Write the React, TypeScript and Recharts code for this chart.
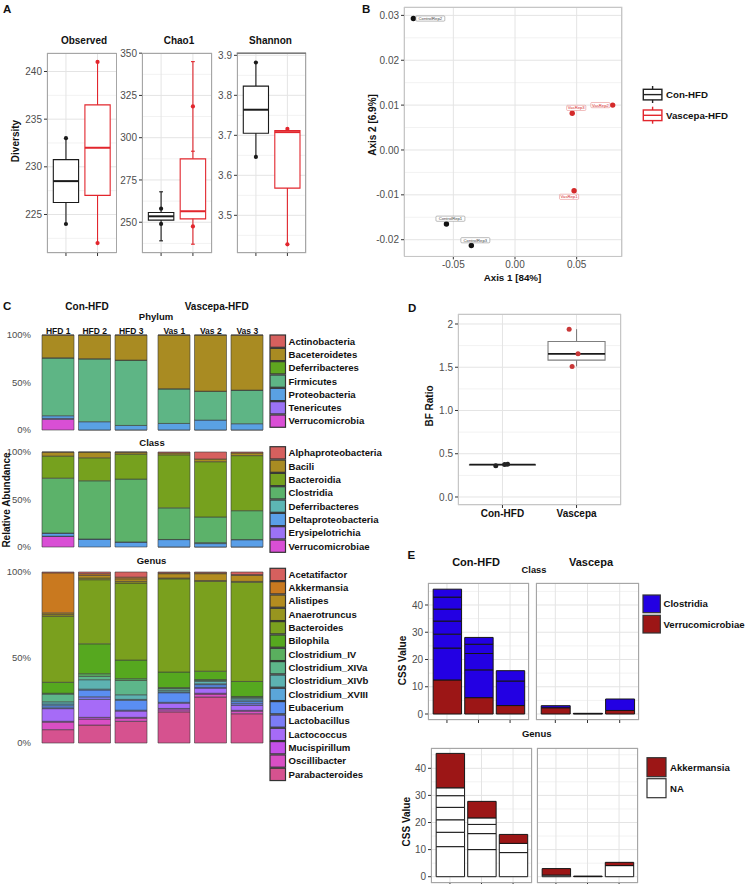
import React from "react";
import {
  BarChart,
  Bar,
  ScatterChart,
  Scatter,
  XAxis,
  YAxis,
  CartesianGrid,
  ReferenceArea,
  ReferenceLine,
} from "recharts";

const FONT = '"Liberation Sans", Arial, Helvetica, sans-serif';
const TICK = "#4D4D4D";
const GRID = "#E4E4E4";
const GRID_MINOR = "#F2F2F2";
const INK = "#1A1A1A";
const RED = "#E2262D";

// ---------- A: alpha diversity (whisker low, Q1, median, Q3, whisker high) ----------
// points hidden under the median line are left out, as in the figure
const observedCon = [224, 226.25, 228.5, 230.75, 233];
const observedVas = [222, 227, 232, 236.5, 241];
const observedPtsCon = [233, 224];
const observedPtsVas = [241, 222];
const observedTicks = [225, 230, 235, 240];
const observedMinor = [222.5, 227.5, 232.5, 237.5];

const chao1Con = [239, 251.25, 253.5, 255.75, 268];
const chao1Vas = [237, 252, 256.5, 287.5, 345];
const chao1PtsCon = [258, 249];
const chao1PtsVas = [318.5, 247.5];
const chao1CapsCon = [268, 239];
const chao1CapsVas = [345, 292, 237];
const chao1Ticks = [250, 275, 300, 325, 350];
const chao1Minor = [237.5, 262.5, 287.5, 312.5, 337.5];

const shannonCon = [3.646, 3.705, 3.764, 3.823, 3.882];
const shannonVas = [3.4275, 3.568, 3.708, 3.712, 3.716];
const shannonPtsCon = [3.882, 3.646];
const shannonPtsVas = [3.716, 3.4275];
const shannonTicks = [3.5, 3.6, 3.7, 3.8, 3.9];
const shannonMinor = [3.45, 3.55, 3.65, 3.75, 3.85];

// ---------- B: PCoA ----------
const pcoaSamples = ["ControlRep1", "ControlRep2", "ControlRep3", "VasRep1", "VasRep2", "VasRep3"];
const pcoaGroup = ["Con-HFD", "Con-HFD", "Con-HFD", "Vascepa-HFD", "Vascepa-HFD", "Vascepa-HFD"];
const pcoaAxis1 = [-0.0556, -0.0824, -0.0354, 0.0479, 0.0792, 0.0464];
const pcoaAxis2 = [-0.0165, 0.0293, -0.0213, -0.0091, 0.01, 0.0082];
const pcoaLabelSide = ["above", "right", "above", "below", "left", "above"];
const pcoaTicksX = [-0.05, 0, 0.05];
const pcoaMinorX = [-0.075, -0.025, 0.025, 0.075];
const pcoaTicksY = [-0.02, -0.01, 0, 0.01, 0.02, 0.03];
const pcoaMinorY = [-0.015, -0.005, 0.005, 0.015, 0.025];

// ---------- C: relative abundance (% per sample) ----------
const sampleLabels = ["HFD 1", "HFD 2", "HFD 3", "Vas 1", "Vas 2", "Vas 3"];

const phylumNames = ["Actinobacteria", "Baceteroidetes", "Deferribacteres", "Firmicutes", "Proteobacteria", "Tenericutes", "Verrucomicrobia"];
const phylumColors = ["#D6605E", "#A98B22", "#5FA61F", "#5EB585", "#5AA1E3", "#9B72F5", "#D94FD5"];
const phylumShares = [
  [0.1, 0.1, 0.1, 0.1, 0.1, 0.1],
  [23.9, 24.9, 26.3, 56.5, 59.0, 57.9],
  [0.2, 0.1, 0.2, 0.1, 0.2, 0.1],
  [60.8, 66.2, 68.6, 36.4, 30.3, 35.3],
  [2.8, 8.6, 4.7, 6.8, 10.3, 6.5],
  [1.0, 0.1, 0.1, 0.1, 0.1, 0.1],
  [11.2, 0, 0, 0, 0, 0],
];

const classNames = ["Alphaproteobacteria", "Bacili", "Bacteroidia", "Clostridia", "Deferribacteres", "Deltaproteobacteria", "Erysipelotrichia", "Verrucomicrobiae"];
const classColors = ["#D6605E", "#A98B22", "#76A11E", "#5CB26A", "#5DB6B4", "#5A9FE8", "#9B72F5", "#D94FD5"];
const classShares = [
  [0.1, 0.1, 0.1, 1.0, 7.4, 1.0],
  [4.2, 6.0, 2.1, 2.0, 2.8, 2.8],
  [23.2, 24.2, 26.3, 55.8, 58.2, 58.0],
  [57.8, 61.3, 66.2, 33.3, 27.0, 30.4],
  [0.1, 0.1, 0.1, 0.1, 1.0, 0.1],
  [3.2, 8.3, 5.2, 7.7, 3.5, 7.6],
  [0.3, 0, 0, 0.1, 0.1, 0.1],
  [11.1, 0, 0, 0, 0, 0],
];

const genusNames = [
  "Acetatifactor", "Akkermansia", "Alistipes", "Anaerotruncus", "Bacteroides", "Bilophila",
  "Clostridium_IV", "Clostridium_XIVa", "Clostridium_XIVb", "Clostridium_XVIII", "Eubacerium",
  "Lactobacillus", "Lactococcus", "Mucispirillum", "Oscillibacter", "Parabacteroides",
];
const genusColors = [
  "#D6605E", "#C9791F", "#B38C1F", "#98951F", "#7AA01E", "#56A81F", "#5AAF5E", "#5DB68A",
  "#5DB2B1", "#5BA6D9", "#5A8EF2", "#7C7CF6", "#A66BF7", "#C450E8", "#D94FC4", "#D6528F",
];
const genusShares = [
  [0.5, 1.0, 3.0, 0.5, 0.5, 1.5],
  [23.4, 1.0, 1.0, 0.5, 0.5, 0.5],
  [1.0, 1.5, 1.5, 2.5, 4.0, 3.5],
  [1.0, 1.0, 1.0, 0.5, 0.5, 0.5],
  [38.6, 37.5, 45.0, 54.5, 52.5, 58.0],
  [6.4, 17.5, 10.9, 9.1, 4.9, 8.8],
  [0.5, 1.5, 1.0, 0.5, 0.5, 0.5],
  [4.5, 2.0, 8.4, 1.0, 0.5, 0.5],
  [1.3, 5.5, 2.7, 1.0, 1.5, 1.0],
  [1.0, 0.5, 0.5, 0.5, 0.5, 1.0],
  [1.2, 4.0, 5.8, 5.6, 1.5, 1.2],
  [0.5, 1.5, 0.5, 0.5, 0.5, 1.0],
  [7.4, 10.5, 3.7, 3.1, 3.0, 2.9],
  [0.5, 1.0, 0.5, 0.8, 0.5, 0.5],
  [4.4, 3.5, 1.8, 1.2, 1.7, 1.5],
  [7.8, 10.5, 12.7, 18.2, 26.9, 17.1],
];

// ---------- D: Bacteroidetes / Firmicutes ratio ----------
const bfGroups = ["Con-HFD", "Vascepa"];
const bfCon = [0.36, 0.3675, 0.375, 0.3765, 0.378];
const bfVas = [1.51, 1.5825, 1.655, 1.7975, 1.94];
const bfPtsConX = [0.91, 1.03, 1.07];
const bfPtsConY = [0.36, 0.375, 0.378];
const bfPtsVasX = [1.9, 2.02, 1.94];
const bfPtsVasY = [1.94, 1.655, 1.51];
const bfTicks = [0, 0.5, 1, 1.5, 2];
const bfMinor = [0.25, 0.75, 1.25, 1.75];

// ---------- E: CSS values, stacked segments from the bottom ----------
const cssSamples = ["1", "2", "3"];
const cssTicks = [0, 10, 20, 30, 40];
const cssMinor = [5, 15, 25, 35, 45];
const classVerrucoCon = [12.5, 6.0, 3.1];
const classClostridiaCon = [[11.7, 5.1, 4.8, 4.4, 4.4, 2.9], [10.2, 6.0, 3.4, 2.5], [9.0, 3.8]];
const classVerrucoVas = [2.3, 0.15, 1.3];
const classClostridiaVas = [[0.75], [0.1], [4.2]];
const genusNaCon = [[11.1, 5.3, 4.6, 4.6, 4.3, 2.9], [10.0, 5.9, 3.4, 2.4], [8.9, 3.4]];
const genusAkkCon = [12.7, 6.1, 3.3];
const genusNaVas = [[0.6], [0.1], [4.1]];
const genusAkkVas = [2.4, 0.1, 1.2];

const CLOSTRIDIA = "#2300E3";
const VERRUCO = "#9C1616";

type Box = [number, number, number, number];
type Margin = { top: number; right: number; bottom: number; left: number };

const axisTick = { fontSize: 10, fill: TICK, fontFamily: FONT };

function Frame({
  box, yw = 0, xh = 0, xt = 0, pad = 6, frame, children,
}: {
  box: Box; yw?: number; xh?: number; xt?: number; pad?: number; frame?: string;
  children: (w: number, h: number, m: Margin) => React.ReactNode;
}) {
  const [x0, y0, x1, y1] = box;
  const w = x1 - x0 + yw + 2 * pad;
  const h = y1 - y0 + xh + xt + 2 * pad;
  return (
    <>
      <div style={{ position: "absolute", left: x0 - yw - pad, top: y0 - xt - pad, width: w, height: h }}>
        {children(w, h, { top: pad, right: pad, bottom: pad, left: pad })}
      </div>
      {frame && (
        <div
          style={{
            position: "absolute", left: x0, top: y0, width: x1 - x0, height: y1 - y0,
            border: `1px solid ${frame}`, boxSizing: "border-box", pointerEvents: "none",
          }}
        />
      )}
    </>
  );
}

type BoxPanelProps = {
  box: Box; domain: [number, number]; ticks: number[]; minor: number[];
  fmt?: (v: number) => string; stats: number[][]; points: { x: number; y: number }[][];
  line: string[]; median: string[]; dot: string[]; caps?: number[][];
  half: number[]; medianW: number; lineW: number; r: number; yw: number; xh: number;
  xLabels?: string[]; frame: string;
};

function BoxPanel(p: BoxPanelProps) {
  const els: React.ReactNode[] = [];
  p.stats.forEach((s, i) => {
    const x = i + 1;
    const hw = p.half[i];
    const [lo, q1, med, q3, hi] = s;
    els.push(
      <ReferenceLine key={`lo${i}`} segment={[{ x, y: lo }, { x, y: q1 }]} stroke={p.line[i]} strokeWidth={p.lineW} />,
      <ReferenceLine key={`hi${i}`} segment={[{ x, y: q3 }, { x, y: hi }]} stroke={p.line[i]} strokeWidth={p.lineW} />,
      <ReferenceArea key={`bx${i}`} x1={x - hw} x2={x + hw} y1={q1} y2={q3} fill="#fff" fillOpacity={1} stroke={p.line[i]} strokeWidth={p.lineW} />,
      <ReferenceLine key={`md${i}`} segment={[{ x: x - hw, y: med }, { x: x + hw, y: med }]} stroke={p.median[i]} strokeWidth={p.medianW} />,
    );
    (p.caps?.[i] ?? []).forEach((c, k) =>
      els.push(
        <ReferenceLine key={`cap${i}-${k}`} segment={[{ x: x - 0.06, y: c }, { x: x + 0.06, y: c }]} stroke={p.line[i]} strokeWidth={p.lineW} />,
      ),
    );
  });
  return (
    <Frame box={p.box} yw={p.yw} xh={p.xh} frame={p.frame}>
      {(w, h, m) => (
        <ScatterChart width={w} height={h} margin={m}>
          <YAxis yAxisId="my" type="number" hide domain={p.domain} ticks={p.minor} allowDataOverflow />
          <CartesianGrid yAxisId="my" vertical={false} stroke={GRID_MINOR} />
          <CartesianGrid stroke={GRID} />
          <XAxis
            dataKey="x" type="number" domain={[0.4, 2.6]} ticks={[1, 2]} allowDataOverflow height={p.xh} interval={0}
            tickFormatter={(v: number) => (p.xLabels ? p.xLabels[v - 1] : "")}
            tick={{ fontSize: 10, fill: "#111", fontWeight: "bold", fontFamily: FONT }}
            tickSize={3} tickMargin={2} axisLine={false} tickLine={{ stroke: "#333" }}
          />
          <YAxis
            dataKey="y" type="number" domain={p.domain} ticks={p.ticks} allowDataOverflow width={p.yw} interval={0}
            tickFormatter={p.fmt} tick={axisTick} tickSize={3} tickMargin={2} axisLine={false} tickLine={{ stroke: "#333" }}
          />
          {els}
          {p.points.map((pts, i) => (
            <Scatter
              key={`pt${i}`} data={pts} isAnimationActive={false}
              shape={(sp: any) => <circle cx={sp.cx} cy={sp.cy} r={p.r} fill={p.dot[i]} />}
            />
          ))}
        </ScatterChart>
      )}
    </Frame>
  );
}

function PcoaPoint(props: any) {
  const { cx, cy, payload } = props;
  const isVas = payload.group !== "Con-HFD";
  const w = payload.name.length * 2.45 + 2;
  const h = 5.2;
  let lx = cx;
  let ly = cy;
  if (payload.side === "right") lx = cx + 2.5 + w / 2;
  else if (payload.side === "left") lx = cx - 2.7 - w / 2;
  else if (payload.side === "above") { lx = cx + 4; ly = cy - 5.3; }
  else { lx = cx - 5; ly = cy + 6; }
  return (
    <g>
      <circle cx={cx} cy={cy} r={2.7} fill={isVas ? "#D42A2A" : "#111"} />
      <rect x={lx - w / 2} y={ly - h / 2} width={w} height={h} rx={1} fill="#fff" stroke={isVas ? "#E27A7A" : "#7A7A7A"} strokeWidth={0.5} />
      <text x={lx} y={ly + 1.5} fontSize={4.2} textAnchor="middle" fill={isVas ? "#D42A2A" : "#444"} fontFamily={FONT}>
        {payload.name}
      </text>
    </g>
  );
}

function AbundanceFacet({
  box, from, names, colors, shares, showY, topLabels,
}: {
  box: Box; from: number; names: string[]; colors: string[]; shares: number[][]; showY: boolean; topLabels: boolean;
}) {
  const rows = [0, 1, 2].map((k) => {
    const r: Record<string, number | string> = { s: sampleLabels[from + k] };
    names.forEach((n, i) => (r[n] = shares[i][from + k]));
    return r;
  });
  const xt = topLabels ? 10 : 0;
  const yw = showY ? 38 : 0;
  const order = names.map((n, i) => i).reverse();
  return (
    <Frame box={box} yw={yw} xt={xt}>
      {(w, h, m) => (
        <BarChart width={w} height={h} margin={m} data={rows} stackOffset="expand" barSize={32}>
          <XAxis
            dataKey="s" orientation={topLabels ? "top" : "bottom"} hide={!topLabels} height={xt} interval={0}
            tickSize={0} tickMargin={1.5} axisLine={false} tickLine={false}
            tick={{ fontSize: 8.5, fontWeight: "bold", fill: "#111", fontFamily: FONT }}
          />
          <YAxis
            hide={!showY} type="number" domain={[0, 1]} ticks={[0, 0.5, 1]} width={yw} interval={0}
            tickFormatter={(v: number) => `${Math.round(v * 100)}%`} axisLine={false} tickLine={false} tickMargin={3}
            tick={{ fontSize: 9.5, fill: TICK, fontFamily: FONT }}
          />
          {order.map((i) => (
            <Bar key={names[i]} dataKey={names[i]} stackId="a" fill={colors[i]} stroke="#3A3A3A" strokeWidth={0.6} isAnimationActive={false} />
          ))}
        </BarChart>
      )}
    </Frame>
  );
}

function cssRows(base: number[], segs: number[][], baseKey: string, segPrefix: string) {
  return cssSamples.map((s, i) => {
    const r: Record<string, number | string> = { s, [baseKey]: base[i] };
    segs[i].forEach((v, k) => (r[`${segPrefix}${k}`] = v));
    return r;
  });
}

function CssFacet({
  box, rows, series, domain, showY,
}: {
  box: Box; rows: Record<string, number | string>[]; series: { key: string; fill: string }[];
  domain: [number, number]; showY: boolean;
}) {
  const W = box[2] - box[0];
  const padX = W / 32;
  const barW = (0.9 * W) / 3.2;
  const yw = showY ? 24 : 0;
  return (
    <Frame box={box} yw={yw} xh={5} frame="#A6A6A6">
      {(w, h, m) => (
        <BarChart width={w} height={h} margin={m} data={rows} barSize={barW}>
          <YAxis yAxisId="my" type="number" hide domain={domain} ticks={cssMinor} allowDataOverflow />
          <CartesianGrid yAxisId="my" vertical={false} stroke={GRID_MINOR} />
          <CartesianGrid stroke={GRID} />
          <XAxis
            dataKey="s" height={5} padding={{ left: padX, right: padX }} interval={0}
            tickFormatter={() => ""} tickSize={3} axisLine={false} tickLine={{ stroke: "#333" }}
          />
          <YAxis
            type="number" domain={domain} ticks={cssTicks} allowDataOverflow hide={!showY} width={yw} interval={0}
            tick={axisTick} tickSize={3} tickMargin={2} axisLine={false} tickLine={{ stroke: "#333" }}
          />
          {series.map((s) => (
            <Bar key={s.key} dataKey={s.key} stackId="a" fill={s.fill} stroke="#161616" strokeWidth={1} isAnimationActive={false} />
          ))}
        </BarChart>
      )}
    </Frame>
  );
}

function Legend({ x, y0, step, w, h, names, colors, tx, font }: {
  x: number; y0: number; step: number; w: number; h: number; names: string[]; colors: string[]; tx: number; font: number;
}) {
  return (
    <g>
      {names.map((n, i) => (
        <g key={n}>
          <rect x={x} y={y0 + i * step} width={w} height={h} fill={colors[i]} stroke="#333" strokeWidth={1.2} />
          <text x={tx} y={y0 + i * step + h / 2 + font * 0.35} fontSize={font} fontWeight="bold" fill="#111">
            {n}
          </text>
        </g>
      ))}
    </g>
  );
}

function BoxGlyph({ x, y, color }: { x: number; y: number; color: string }) {
  return (
    <g stroke={color} strokeWidth={1.4} fill="#fff">
      <line x1={x + 9.3} x2={x + 9.3} y1={y} y2={y + 17} />
      <rect x={x} y={y + 3.3} width={18.6} height={10.6} />
      <line x1={x} x2={x + 18.6} y1={y + 8.6} y2={y + 8.6} />
    </g>
  );
}

function Rot({ x, y, children, size = 10 }: { x: number; y: number; children: React.ReactNode; size?: number }) {
  return (
    <text transform={`translate(${x},${y}) rotate(-90)`} textAnchor="middle" fontSize={size} fontWeight="bold" fill="#111">
      {children}
    </text>
  );
}

export default function App() {
  const pcoaRows = pcoaSamples.map((name, i) => ({
    x: pcoaAxis1[i], y: pcoaAxis2[i], name, group: pcoaGroup[i], side: pcoaLabelSide[i],
  }));
  const atX = (ys: number[], x: number) => ys.map((y) => ({ x, y }));
  const zip = (xs: number[], ys: number[]) => xs.map((x, i) => ({ x, y: ys[i] }));

  const classSeries = [{ key: "v", fill: VERRUCO }, ...[0, 1, 2, 3, 4, 5].map((k) => ({ key: `c${k}`, fill: CLOSTRIDIA }))];
  const genusSeries = [...[0, 1, 2, 3, 4, 5].map((k) => ({ key: `n${k}`, fill: "#FFFFFF" })), { key: "a", fill: VERRUCO }];

  return (
    <div style={{ position: "absolute", left: 0, top: 0, width: 748, height: 884, background: "#fff", overflow: "hidden", fontFamily: FONT }}>
      {/* A */}
      <BoxPanel
        box={[47, 52.5, 116.5, 252.5]} domain={[220.96, 241.94]} ticks={observedTicks} minor={observedMinor}
        stats={[observedCon, observedVas]} points={[atX(observedPtsCon, 1), atX(observedPtsVas, 2)]}
        line={[INK, RED]} median={[INK, RED]} dot={[INK, RED]} half={[0.4, 0.4]} medianW={2} lineW={1.1} r={2.1}
        yw={24} xh={5} frame="#A6A6A6"
      />
      <BoxPanel
        box={[142.3, 52.5, 212.3, 252.5]} domain={[231.8, 350.1]} ticks={chao1Ticks} minor={chao1Minor}
        stats={[chao1Con, chao1Vas]} points={[atX(chao1PtsCon, 1), atX(chao1PtsVas, 2)]} caps={[chao1CapsCon, chao1CapsVas]}
        line={[INK, RED]} median={[INK, RED]} dot={[INK, RED]} half={[0.4, 0.4]} medianW={2} lineW={1.1} r={2.1}
        yw={24} xh={5} frame="#A6A6A6"
      />
      <BoxPanel
        box={[236.7, 52.7, 306, 252.7]} domain={[3.4058, 3.9058]} ticks={shannonTicks} minor={shannonMinor}
        fmt={(v) => v.toFixed(1)}
        stats={[shannonCon, shannonVas]} points={[atX(shannonPtsCon, 1), atX(shannonPtsVas, 2)]}
        line={[INK, RED]} median={[INK, RED]} dot={[INK, RED]} half={[0.4, 0.4]} medianW={2} lineW={1.1} r={2.1}
        yw={24} xh={5} frame="#A6A6A6"
      />

      {/* B */}
      <Frame box={[404, 7.3, 622.3, 256.7]} yw={36} xh={16} frame="#C6C6C6">
        {(w, h, m) => (
          <ScatterChart width={w} height={h} margin={m}>
            <XAxis xAxisId="mx" type="number" hide domain={[-0.09, 0.087]} ticks={pcoaMinorX} allowDataOverflow />
            <YAxis yAxisId="my" type="number" hide domain={[-0.02372, 0.03187]} ticks={pcoaMinorY} allowDataOverflow />
            <CartesianGrid xAxisId="mx" yAxisId="my" stroke={GRID_MINOR} />
            <CartesianGrid stroke={GRID} />
            <XAxis
              dataKey="x" type="number" domain={[-0.09, 0.087]} ticks={pcoaTicksX} allowDataOverflow height={16} interval={0}
              tickFormatter={(v: number) => v.toFixed(2)} tick={axisTick} tickSize={3} tickMargin={2} axisLine={false} tickLine={{ stroke: "#333" }}
            />
            <YAxis
              dataKey="y" type="number" domain={[-0.02372, 0.03187]} ticks={pcoaTicksY} allowDataOverflow width={36} interval={0}
              tickFormatter={(v: number) => v.toFixed(2)} tick={axisTick} tickSize={3} tickMargin={2} axisLine={false} tickLine={{ stroke: "#333" }}
            />
            <Scatter data={pcoaRows} shape={PcoaPoint} isAnimationActive={false} />
          </ScatterChart>
        )}
      </Frame>

      {/* C */}
      <AbundanceFacet box={[39.5, 335, 149, 430]} from={0} names={phylumNames} colors={phylumColors} shares={phylumShares} showY topLabels />
      <AbundanceFacet box={[156, 335, 265.5, 430]} from={3} names={phylumNames} colors={phylumColors} shares={phylumShares} showY={false} topLabels />
      <AbundanceFacet box={[39.5, 452, 149, 547]} from={0} names={classNames} colors={classColors} shares={classShares} showY topLabels={false} />
      <AbundanceFacet box={[156, 452, 265.5, 547]} from={3} names={classNames} colors={classColors} shares={classShares} showY={false} topLabels={false} />
      <AbundanceFacet box={[39.5, 572, 149, 743]} from={0} names={genusNames} colors={genusColors} shares={genusShares} showY topLabels={false} />
      <AbundanceFacet box={[156, 572, 265.5, 743]} from={3} names={genusNames} colors={genusColors} shares={genusShares} showY={false} topLabels={false} />

      {/* D */}
      <BoxPanel
        box={[458, 314, 621, 505]} domain={[-0.0925, 2.1156]} ticks={bfTicks} minor={bfMinor}
        fmt={(v) => (v === 2 ? "2" : v.toFixed(1))}
        stats={[bfCon, bfVas]} points={[zip(bfPtsConX, bfPtsConY), zip(bfPtsVasX, bfPtsVasY)]}
        line={["#7F7F7F", "#7F7F7F"]} median={[INK, INK]} dot={["#222", "#C93838"]} half={[0.445, 0.385]} medianW={1.6} lineW={1.1} r={2.5}
        yw={22} xh={16} xLabels={bfGroups} frame="#C6C6C6"
      />

      {/* E */}
      <CssFacet box={[428, 583, 529, 720]} rows={cssRows(classVerrucoCon, classClostridiaCon, "v", "c")} series={classSeries} domain={[-2.2, 48.07]} showY />
      <CssFacet box={[536, 583, 639, 720]} rows={cssRows(classVerrucoVas, classClostridiaVas, "v", "c")} series={classSeries} domain={[-2.2, 48.07]} showY={false} />
      <CssFacet box={[431, 748, 532, 883]} rows={cssRows(genusAkkCon, genusNaCon, "a", "n")} series={genusSeries} domain={[-2.32, 47.49]} showY />
      <CssFacet box={[537, 748, 638, 883]} rows={cssRows(genusAkkVas, genusNaVas, "a", "n")} series={genusSeries} domain={[-2.32, 47.49]} showY={false} />

      <svg width={748} height={884} style={{ position: "absolute", left: 0, top: 0, pointerEvents: "none" }} fontFamily={FONT}>
        {/* panel letters */}
        <g fontSize={11.5} fontWeight="bold" fill="#111">
          <text x={3} y={12.5}>A</text>
          <text x={362} y={12.5}>B</text>
          <text x={3} y={310}>C</text>
          <text x={408} y={312}>D</text>
          <text x={407.5} y={559}>E</text>
        </g>
        {/* A */}
        <g fontSize={10} fontWeight="bold" fill="#111" textAnchor="middle">
          <text x={84} y={43.5}>Observed</text>
          <text x={179} y={43.5}>Chao1</text>
          <text x={270.5} y={43.5}>Shannon</text>
        </g>
        <line x1={236.7} x2={306} y1={53.2} y2={53.2} stroke="#6E6E6E" strokeWidth={1.2} />
        <Rot x={18.5} y={141}>Diversity</Rot>
        {/* B */}
        <text x={512.5} y={280.5} fontSize={9.8} fontWeight="bold" textAnchor="middle" fill="#111">Axis 1 [84%]</text>
        <Rot x={376} y={125}>Axis 2 [6.9%]</Rot>
        <BoxGlyph x={643.3} y={86} color="#222" />
        <BoxGlyph x={643.3} y={106.7} color={RED} />
        <text x={666} y={98.3} fontSize={9.7} fontWeight="bold" fill="#111">{pcoaGroup[0]}</text>
        <text x={666} y={118.6} fontSize={9.7} fontWeight="bold" fill="#111">{pcoaGroup[3]}</text>
        {/* C */}
        <g fontWeight="bold" fill="#111" textAnchor="middle">
          <text x={87} y={309.5} fontSize={10}>Con-HFD</text>
          <text x={216.7} y={309.5} fontSize={10}>Vascepa-HFD</text>
          <text x={156} y={320} fontSize={9.5}>Phylum</text>
          <text x={152} y={445.5} fontSize={9.5}>Class</text>
          <text x={151.5} y={564.3} fontSize={9.5}>Genus</text>
        </g>
        <Rot x={9.8} y={500}>Relative Abundance</Rot>
        <Legend x={270} y0={335} step={13.33} w={15.5} h={12.3} names={phylumNames} colors={phylumColors} tx={288.5} font={9.6} />
        <Legend x={270} y0={446.7} step={13.33} w={15.5} h={12.3} names={classNames} colors={classColors} tx={288.5} font={9.6} />
        <Legend x={270} y0={568.3} step={13.33} w={15.5} h={12.3} names={genusNames} colors={genusColors} tx={288.5} font={9.6} />
        {/* D */}
        <Rot x={433} y={406}>BF Ratio</Rot>
        {/* E */}
        <g fontWeight="bold" fill="#111" textAnchor="middle">
          <text x={476} y={565.7} fontSize={11}>Con-HFD</text>
          <text x={591} y={566.3} fontSize={11}>Vascepa</text>
          <text x={534} y={573.3} fontSize={9.3}>Class</text>
          <text x={536.7} y={736.7} fontSize={9.5}>Genus</text>
        </g>
        <Rot x={405.5} y={660.5}>CSS Value</Rot>
        <Rot x={409.5} y={821.7}>CSS Value</Rot>
        <Legend x={643} y0={595} step={20.3} w={17.3} h={17.7} names={["Clostridia", "Verrucomicrobiae"]} colors={[CLOSTRIDIA, VERRUCO]} tx={663.5} font={9.6} />
        <Legend x={647} y0={757.7} step={21} w={19} h={19} names={["Akkermansia", "NA"]} colors={[VERRUCO, "#FFFFFF"]} tx={670} font={9.6} />
      </svg>
    </div>
  );
}
